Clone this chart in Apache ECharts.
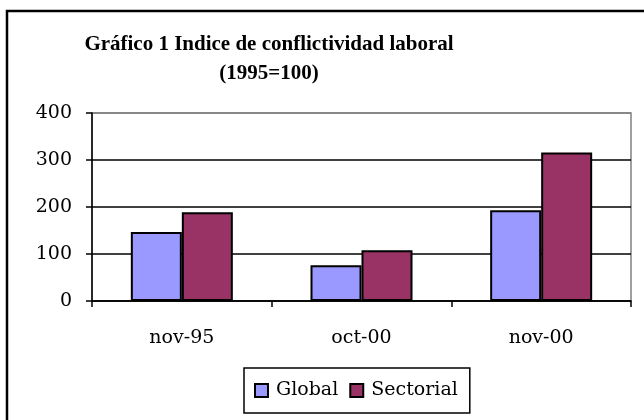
<!DOCTYPE html>
<html>
<head>
    <meta charset="UTF-8">
    <title>Gráfico 1</title>
    <script src="https://cdn.jsdelivr.net/npm/echarts@6/dist/echarts.min.js"></script>
    <style>
        body { margin: 0; background: #fff; }
    </style>
</head>
<body>
    <div id="chart" style="width:644px; height:420px;"></div>

    <script>
        // datos
        var categories = ['nov-95', 'oct-00', 'nov-00'];
        var seriesNames = ['Global', 'Sectorial'];
        var globalValues = [147, 76, 193];
        var sectorialValues = [189, 108, 316];
        var yTicks = [0, 100, 200, 300, 400];

        var serif = '"DejaVu Serif", serif';
        var chart = echarts.init(document.getElementById('chart'), null, {renderer: 'canvas'});

        chart.setOption({
            backgroundColor: '#fff',
            animation: false,
            title: {
                text: 'Gráfico 1 Indice de conflictividad laboral\n(1995=100)',
                left: 264,
                top: 25,
                textAlign: 'center',
                textStyle: {
                    fontFamily: '"Liberation Serif", serif',
                    fontWeight: 'bold',
                    fontSize: 21,
                    lineHeight: 29,
                    color: '#000'
                }
            },
            legend: {
                data: seriesNames,
                left: 244,
                top: 368,
                padding: [12, 12, 12, 10],
                itemWidth: 13,
                itemHeight: 13,
                itemGap: 11,
                icon: 'rect',
                borderColor: '#000',
                borderWidth: 1.5,
                textStyle: { fontFamily: serif, fontSize: 19, color: '#000', lineHeight: 21, padding: [0, 0, 0, 3] }
            },
            grid: {
                left: 92, right: 13, top: 113, bottom: 119,
                show: true,
                borderColor: '#808080',
                borderWidth: 1.5
            },
            xAxis: {
                type: 'category',
                data: categories,
                axisLine: { lineStyle: { color: '#000', width: 1.5 } },
                axisTick: { show: true, length: 6, lineStyle: { color: '#000', width: 1.5 } },
                axisLabel: { fontFamily: serif, fontSize: 19, color: '#000', margin: 28 }
            },
            yAxis: {
                type: 'value',
                min: yTicks[0],
                max: yTicks[yTicks.length - 1],
                interval: 100,
                axisLine: { show: true, lineStyle: { color: '#000', width: 1.5 } },
                axisTick: { show: true, length: 6, lineStyle: { color: '#000', width: 1.5 } },
                axisLabel: { fontFamily: serif, fontSize: 19, color: '#000', margin: 20 },
                splitLine: {
                    show: true,
                    lineStyle: { color: ['#000', '#000', '#000', '#000', '#808080'], width: 1.5 }
                }
            },
            series: [
                {
                    name: seriesNames[0],
                    type: 'bar',
                    data: globalValues,
                    barWidth: 51,
                    barGap: '0%',
                    itemStyle: { color: '#9999FF', borderColor: '#000', borderWidth: 2 }
                },
                {
                    name: seriesNames[1],
                    type: 'bar',
                    data: sectorialValues,
                    barWidth: 51,
                    itemStyle: { color: '#993366', borderColor: '#000', borderWidth: 2 }
                }
            ],
            graphic: [
                {
                    type: 'rect',
                    shape: { x: 7, y: 11, width: 700, height: 500 },
                    style: { fill: 'none', stroke: '#000', lineWidth: 2.5 },
                    silent: true
                }
            ]
        });
    </script>
</body>
</html>
